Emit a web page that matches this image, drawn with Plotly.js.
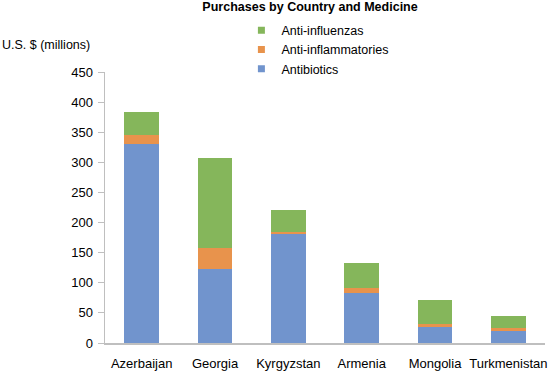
<!DOCTYPE html>
<html>
<head>
<meta charset="utf-8">
<script src="https://cdn.plot.ly/plotly-3.0.1.min.js"></script>
<style>html,body{margin:0;padding:0;background:#fff}#chart{width:550px;height:371px}</style>
</head>
<body>
<div id="chart"></div>
<script>
const countries = ["Azerbaijan", "Georgia", "Kyrgyzstan", "Armenia", "Mongolia", "Turkmenistan"];
const seriesNames = ["Antibiotics", "Anti-inflammatories", "Anti-influenzas"];
const antibiotics = [330, 123, 181, 83, 27, 20];
const antiInflammatories = [15, 34, 3, 9, 5, 5];
const antiInfluenzas = [38, 151, 37, 41, 39, 20];
const seriesColors = ["#7194CD", "#E8934C", "#85B65B"];
const yTicks = [0, 50, 100, 150, 200, 250, 300, 350, 400, 450];

const values = [antibiotics, antiInflammatories, antiInfluenzas];
const traces = [];
values.forEach((v, i) => {
  traces.push({type: "bar", name: seriesNames[i], x: countries, y: v, marker: {color: seriesColors[i]}, showlegend: false, legendgroup: seriesNames[i]});
});
values.forEach((v, i) => {
  traces.push({type: "scatter", mode: "markers", name: seriesNames[i], x: [null], y: [null], marker: {symbol: "square", size: 7, color: seriesColors[i]}, legendgroup: seriesNames[i]});
});

const layout = {
  width: 550, height: 371,
  margin: {l: 105, r: 5, t: 72, b: 28},
  barmode: "stack",
  bargap: 0.53,
  paper_bgcolor: "#fff", plot_bgcolor: "#fff",
  font: {family: "Liberation Sans, Arial, sans-serif", size: 13, color: "#000"},
  title: {text: "<b>Purchases by Country and Medicine</b>", font: {size: 12.5, color: "#000"}, x: 0.466, xref: "paper", xanchor: "center", y: 0.982, yanchor: "middle"},
  showlegend: true,
  legend: {traceorder: "reversed", x: 0.31, xanchor: "left", y: 1.208, yanchor: "top", font: {size: 12.5}, bgcolor: "rgba(0,0,0,0)", itemwidth: 30, tracegroupgap: 0},
  xaxis: {showline: true, linecolor: "#bfbfbf", linewidth: 1.5, ticks: "", showgrid: false, zeroline: false, tickfont: {size: 13}, ticklabelstandoff: 8},
  yaxis: {range: [0, 450], tickvals: yTicks, showline: true, linecolor: "#bfbfbf", linewidth: 1.5, ticks: "outside", ticklen: 6, tickcolor: "#bfbfbf", showgrid: false, zeroline: false, tickfont: {size: 13}, ticklabelstandoff: 2},
  annotations: [{text: "U.S. $ (millions)", xref: "paper", yref: "paper", x: -0.03, xanchor: "right", y: 1.10, yanchor: "middle", showarrow: false, font: {size: 12.5}}]
};
Plotly.newPlot("chart", traces, layout, {displayModeBar: false, staticPlot: true});
</script>
</body>
</html>
